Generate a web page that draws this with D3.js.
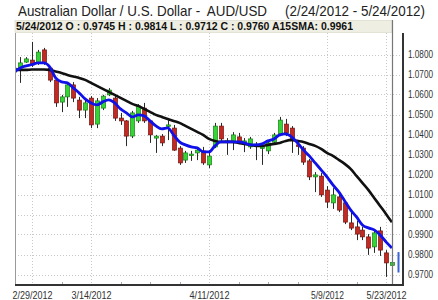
<!DOCTYPE html>
<html>
<head>
<meta charset="utf-8">
<script src="https://cdn.jsdelivr.net/npm/d3@7"></script>
<style>
  html, body { margin: 0; padding: 0; background: #fff; }
  svg { display: block; font-family: 'Liberation Sans', Arial, sans-serif; }
</style>
</head>
<body>
<svg id="chart" width="438" height="300"></svg>
<script>
// Trading days (weekdays) shown on the chart, plus the partial bar for 5/25
const dates = [
  '2/24/2012', '2/27/2012', '2/28/2012', '2/29/2012', '3/1/2012', '3/2/2012',
  '3/5/2012', '3/6/2012', '3/7/2012', '3/8/2012', '3/9/2012',
  '3/12/2012', '3/13/2012', '3/14/2012', '3/15/2012', '3/16/2012',
  '3/19/2012', '3/20/2012', '3/21/2012', '3/22/2012', '3/23/2012',
  '3/26/2012', '3/27/2012', '3/28/2012', '3/29/2012', '3/30/2012',
  '4/2/2012', '4/3/2012', '4/4/2012', '4/5/2012', '4/6/2012',
  '4/9/2012', '4/10/2012', '4/11/2012', '4/12/2012', '4/13/2012',
  '4/16/2012', '4/17/2012', '4/18/2012', '4/19/2012', '4/20/2012',
  '4/23/2012', '4/24/2012', '4/25/2012', '4/26/2012', '4/27/2012',
  '4/30/2012', '5/1/2012', '5/2/2012', '5/3/2012', '5/4/2012',
  '5/7/2012', '5/8/2012', '5/9/2012', '5/10/2012', '5/11/2012',
  '5/14/2012', '5/15/2012', '5/16/2012', '5/17/2012', '5/18/2012',
  '5/21/2012', '5/22/2012', '5/23/2012', '5/24/2012', '5/25/2012'
];

const open = [
  1.0712, 1.0732, 1.0762, 1.0772, 1.0758, 1.0823, 1.0732, 1.0672, 1.0562, 1.0588,
  1.0648, 1.0572, 1.0522, 1.0582, 1.0452, 1.0532, 1.0598, 1.0582, 1.0482, 1.0468,
  1.0392, 1.0468, 1.0532, 1.0468, 1.0382, 1.0392, 1.0442, 1.0432, 1.0332, 1.0272,
  1.0298, 1.0308, 1.0318, 1.0248, 1.0338, 1.0442, 1.0362, 1.0362, 1.0388, 1.0362,
  1.0338, 1.0348, 1.0332, 1.0318, 1.0362, 1.0402, 1.0452, 1.0432, 1.0348, 1.0332,
  1.0268, 1.0188, 1.0192, 1.0122, 1.0058, 1.0088, 1.0058, 0.9958, 0.9938, 0.9922,
  0.9888, 0.9838, 0.9918, 0.9808, 0.9745
];
const high = [
  1.0748, 1.0787, 1.0787, 1.0863, 1.0823, 1.0833, 1.0738, 1.0678, 1.0598, 1.0662,
  1.0662, 1.0588, 1.0572, 1.0592, 1.0582, 1.0598, 1.0632, 1.0592, 1.0508, 1.0472,
  1.0518, 1.0552, 1.0558, 1.0472, 1.0398, 1.0402, 1.0472, 1.0448, 1.0342, 1.0318,
  1.0318, 1.0332, 1.0338, 1.0322, 1.0458, 1.0458, 1.0382, 1.0412, 1.0408, 1.0382,
  1.0388, 1.0362, 1.0348, 1.0372, 1.0408, 1.0488, 1.0478, 1.0442, 1.0362, 1.0342,
  1.0278, 1.0212, 1.0208, 1.0142, 1.0132, 1.0108, 1.0068, 1.0012, 0.9968, 0.9938,
  0.9902, 0.9922, 0.9938, 0.9822, 0.9814
];
const low = [
  1.0698, 1.0658, 1.0758, 1.0738, 1.0748, 1.0748, 1.0662, 1.0538, 1.0512, 1.0538,
  1.0562, 1.0482, 1.0482, 1.0432, 1.0432, 1.0522, 1.0592, 1.0468, 1.0448, 1.0342,
  1.0382, 1.0458, 1.0458, 1.0358, 1.0308, 1.0342, 1.0372, 1.0318, 1.0248, 1.0258,
  1.0268, 1.0272, 1.0248, 1.0232, 1.0332, 1.0368, 1.0298, 1.0322, 1.0352, 1.0312,
  1.0328, 1.0272, 1.0248, 1.0302, 1.0352, 1.0392, 1.0392, 1.0308, 1.0298, 1.0248,
  1.0172, 1.0112, 1.0088, 1.0032, 1.0028, 1.0012, 0.9952, 0.9922, 0.9872, 0.9872,
  0.9798, 0.9808, 0.9793, 0.9688, 0.9712
];
const close = [
  1.0732, 1.0758, 1.0778, 1.0748, 1.0812, 1.0758, 1.0672, 1.0558, 1.0588, 1.0648,
  1.0582, 1.0522, 1.0558, 1.0448, 1.0568, 1.0592, 1.0622, 1.0482, 1.0468, 1.0392,
  1.0508, 1.0542, 1.0468, 1.0398, 1.0392, 1.0358, 1.0448, 1.0322, 1.0258, 1.0308,
  1.0302, 1.0322, 1.0258, 1.0292, 1.0442, 1.0378, 1.0368, 1.0398, 1.0362, 1.0368,
  1.0378, 1.0352, 1.0338, 1.0358, 1.0398, 1.0472, 1.0408, 1.0368, 1.0342, 1.0262,
  1.0188, 1.0198, 1.0098, 1.0062, 1.0098, 1.0022, 0.9962, 0.9932, 0.9902, 0.9888,
  0.9832, 0.9908, 0.9822, 0.9758, 0.9760
];

// Moving averages as drawn (blue = short average, black = A15SMA)
const smaShort = [
  1.0713, 1.0733, 1.0743, 1.0750, 1.0758, 1.0758, 1.0738, 1.0683, 1.0663, 1.0658,
  1.0633, 1.0608, 1.0578, 1.0558, 1.0548, 1.0563, 1.0573, 1.0558, 1.0528, 1.0508,
  1.0488, 1.0498, 1.0493, 1.0468, 1.0443, 1.0428, 1.0433, 1.0398, 1.0363, 1.0348,
  1.0338, 1.0333, 1.0313, 1.0313, 1.0343, 1.0363, 1.0363, 1.0363, 1.0363, 1.0358,
  1.0348, 1.0348, 1.0353, 1.0368, 1.0378, 1.0398, 1.0403, 1.0388, 1.0358, 1.0323,
  1.0293, 1.0258, 1.0223, 1.0188, 1.0148, 1.0113, 1.0068, 1.0023, 0.9988, 0.9948,
  0.9933, 0.9923, 0.9898, 0.9863, 0.9833
];
const sma15 = [
  1.0723, 1.0723, 1.0723, 1.0725, 1.0725, 1.0725, 1.0723, 1.0715, 1.0708, 1.0698,
  1.0690, 1.0683, 1.0673, 1.0658, 1.0643, 1.0628, 1.0613, 1.0598, 1.0583, 1.0568,
  1.0553, 1.0543, 1.0528, 1.0513, 1.0498, 1.0488, 1.0478, 1.0468, 1.0458, 1.0443,
  1.0428, 1.0413, 1.0398, 1.0378, 1.0368, 1.0363, 1.0363, 1.0363, 1.0358, 1.0353,
  1.0348, 1.0343, 1.0343, 1.0348, 1.0353, 1.0358, 1.0368, 1.0373, 1.0368, 1.0363,
  1.0353, 1.0343, 1.0328, 1.0308, 1.0293, 1.0273, 1.0253, 1.0228, 1.0193, 1.0158,
  1.0123, 1.0083, 1.0043, 1.0003, 0.9961
];

// Partial bar after the last full day
const lastBar = { date: '5/25/2012', high: 0.9812, low: 0.9710 };

const yTicks = [1.08, 1.07, 1.06, 1.05, 1.04, 1.03, 1.02, 1.01, 1.00, 0.99, 0.98, 0.97];
const xTickDates = ['2/29/2012', '3/14/2012', '4/11/2012', '5/9/2012', '5/23/2012'];
const minorTickDates = ['3/7/2012', '3/21/2012', '3/28/2012', '4/4/2012', '4/18/2012', '4/25/2012', '5/2/2012', '5/16/2012'];

const title = 'Australian Dollar / U.S. Dollar -  AUD/USD';
const range = '(2/24/2012 - 5/24/2012)';
const info = '5/24/2012 O : 0.9745 H : 0.9814 L : 0.9712 C : 0.9760 A15SMA: 0.9961';

const color = {
  up: '#33d633', upEdge: '#1a7a1a',
  down: '#c42a22', downEdge: '#6e1410',
  wick: '#2a2a2a', short: '#1010e8', long: '#111111',
  grid: '#c8c8c8', axis: '#333333', text: '#222222', bar: '#efeee2'
};

const plot = { left: 15, right: 403, top: 33, bottom: 285 };

function render() {
  const svg = d3.select('#chart');
  svg.selectAll('*').remove();

  const x = d3.scalePoint().domain(dates).range([14.3, 397.8]);
  const y = d3.scaleLinear().domain([0.97, 1.08]).range([274.5, 54.5]);

  const candles = open.map((o, i) => ({
    date: dates[i], open: o, high: high[i], low: low[i], close: close[i]
  }));

  // Heading
  svg.append('text')
    .attr('x', 18).attr('y', 16)
    .attr('font-size', 14.5).attr('fill', color.text)
    .attr('textLength', 249).attr('lengthAdjust', 'spacingAndGlyphs')
    .style('white-space', 'pre')
    .text(title);
  svg.append('text')
    .attr('x', 285).attr('y', 16)
    .attr('font-size', 14.5).attr('fill', color.text)
    .attr('textLength', 140).attr('lengthAdjust', 'spacingAndGlyphs')
    .text(range);

  // Info bar above the plot
  svg.append('rect')
    .attr('x', plot.left).attr('y', 20.5)
    .attr('width', x('5/24/2012') - plot.left).attr('height', 12)
    .attr('fill', color.bar).attr('stroke', '#d8d6c4').attr('stroke-width', 0.6);
  svg.append('text')
    .attr('x', 16).attr('y', 30)
    .attr('font-size', 10.5).attr('font-weight', 'bold').attr('fill', '#111')
    .attr('textLength', 337).attr('lengthAdjust', 'spacingAndGlyphs')
    .text(info);

  // Dotted grid
  const grid = svg.append('g').attr('class', 'grid')
    .attr('stroke', color.grid).attr('stroke-dasharray', '1,2').attr('stroke-width', 1);
  grid.selectAll('line.h').data(yTicks).join('line')
    .attr('class', 'h')
    .attr('x1', plot.left).attr('x2', plot.right)
    .attr('y1', d => Math.round(y(d)) + 0.5).attr('y2', d => Math.round(y(d)) + 0.5);
  grid.selectAll('line.v').data(xTickDates).join('line')
    .attr('class', 'v')
    .attr('x1', d => Math.round(x(d)) + 0.5).attr('x2', d => Math.round(x(d)) + 0.5)
    .attr('y1', plot.top).attr('y2', plot.bottom);

  // Clip marks to the plot area
  svg.append('clipPath').attr('id', 'plot-clip')
    .append('rect')
    .attr('x', plot.left).attr('y', plot.top)
    .attr('width', plot.right - plot.left).attr('height', plot.bottom - plot.top);

  const canvas = svg.append('g').attr('clip-path', 'url(#plot-clip)');

  // Candles
  const bodyW = 4;
  const candle = canvas.selectAll('g.candle').data(candles).join('g').attr('class', 'candle');
  candle.append('line')
    .attr('x1', d => Math.round(x(d.date)) + 0.5).attr('x2', d => Math.round(x(d.date)) + 0.5)
    .attr('y1', d => y(d.high)).attr('y2', d => y(d.low))
    .attr('stroke', color.wick).attr('stroke-width', 1);
  candle.append('rect')
    .attr('x', d => Math.round(x(d.date)) + 0.5 - bodyW / 2)
    .attr('y', d => y(Math.max(d.open, d.close)))
    .attr('width', bodyW)
    .attr('height', d => Math.max(1.5, Math.abs(y(d.open) - y(d.close))))
    .attr('fill', d => (d.close >= d.open ? color.up : color.down))
    .attr('stroke', d => (d.close >= d.open ? color.upEdge : color.downEdge))
    .attr('stroke-width', 0.7);

  // Partial bar
  canvas.append('rect')
    .attr('x', Math.round(x(lastBar.date)) - 0.5)
    .attr('y', y(lastBar.high))
    .attr('width', 2)
    .attr('height', y(lastBar.low) - y(lastBar.high))
    .attr('fill', '#3a64d8');

  // Moving averages
  const line = d3.line().x((d, i) => x(dates[i])).y(d => y(d)).curve(d3.curveMonotoneX);
  canvas.append('path').datum(sma15)
    .attr('d', line).attr('fill', 'none')
    .attr('stroke', color.long).attr('stroke-width', 2.6).attr('stroke-linejoin', 'round');
  canvas.append('path').datum(smaShort)
    .attr('d', line).attr('fill', 'none')
    .attr('stroke', color.short).attr('stroke-width', 2.8).attr('stroke-linejoin', 'round');

  // Cursor line on the last day
  svg.append('line')
    .attr('x1', Math.round(x('5/24/2012')) + 0.5).attr('x2', Math.round(x('5/24/2012')) + 0.5)
    .attr('y1', 20).attr('y2', plot.bottom)
    .attr('stroke', '#777').attr('stroke-width', 1.2);

  // Frame: thin left edge, heavy right and bottom axes
  svg.append('line')
    .attr('x1', plot.left + 0.5).attr('x2', plot.left + 0.5)
    .attr('y1', plot.top).attr('y2', plot.bottom)
    .attr('stroke', '#9a9a9a').attr('stroke-width', 1);
  svg.append('line')
    .attr('x1', plot.right).attr('x2', plot.right)
    .attr('y1', 33).attr('y2', plot.bottom + 1)
    .attr('stroke', color.axis).attr('stroke-width', 2);

  // Right price axis
  const yAxis = svg.append('g')
    .attr('transform', `translate(${plot.right}, 0)`)
    .call(d3.axisRight(y).tickValues(yTicks).tickFormat(d3.format('.4f')).tickSize(0).tickPadding(5));
  yAxis.select('.domain').remove();
  yAxis.selectAll('text')
    .attr('font-family', "'Liberation Sans', Arial, sans-serif")
    .attr('font-size', 10).attr('fill', '#333')
    .attr('textLength', 25).attr('lengthAdjust', 'spacingAndGlyphs');

  // Bottom date axis
  const xAxis = svg.append('g')
    .attr('transform', `translate(0, ${plot.bottom})`)
    .call(d3.axisBottom(x).tickValues(xTickDates).tickSize(0).tickPadding(7));
  xAxis.select('.domain').remove();
  xAxis.selectAll('text')
    .attr('font-family', "'Liberation Sans', Arial, sans-serif")
    .attr('font-size', 10).attr('fill', '#333')
    .attr('textLength', d => (d.length > 8 ? 40 : 33)).attr('lengthAdjust', 'spacingAndGlyphs');

  svg.append('g').selectAll('line').data(minorTickDates).join('line')
    .attr('x1', d => Math.round(x(d)) + 0.5).attr('x2', d => Math.round(x(d)) + 0.5)
    .attr('y1', plot.bottom - 3).attr('y2', plot.bottom)
    .attr('stroke', '#aaa').attr('stroke-width', 1);

  svg.append('line')
    .attr('x1', plot.left).attr('x2', plot.right + 1)
    .attr('y1', plot.bottom).attr('y2', plot.bottom)
    .attr('stroke', color.axis).attr('stroke-width', 2);
}

render();
</script>
</body>
</html>
